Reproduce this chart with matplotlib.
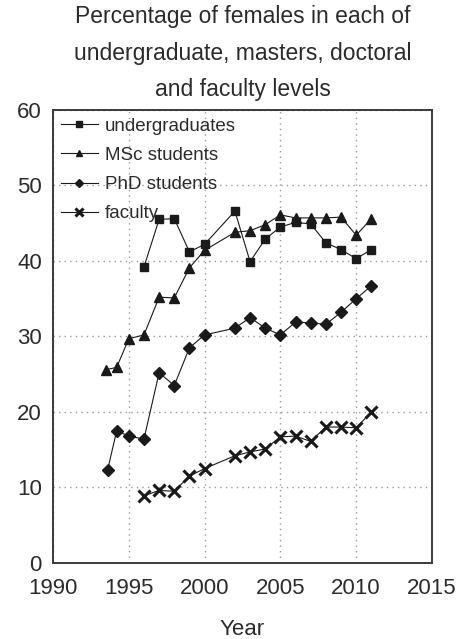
import matplotlib
matplotlib.use('Agg')
import matplotlib.pyplot as plt

# values
ug_years = [1996, 1997, 1998, 1999, 2000, 2002, 2003, 2004, 2005, 2006, 2007, 2008, 2009, 2010, 2011]
ug_pct = [39.2, 45.5, 45.6, 41.2, 42.2, 46.6, 39.9, 42.9, 44.5, 45.1, 44.9, 42.4, 41.5, 40.3, 41.5]

msc_years = [1993.5, 1994.2, 1995, 1996, 1997, 1998, 1999, 2000, 2002, 2003, 2004, 2005, 2006, 2007, 2008, 2009, 2010, 2011]
msc_pct = [25.6, 25.9, 29.7, 30.2, 35.2, 35.1, 39.1, 41.4, 43.8, 44.0, 44.8, 46.1, 45.7, 45.7, 45.7, 45.8, 43.4, 45.6]

phd_years = [1993.6, 1994.2, 1995, 1996, 1997, 1998, 1999, 2000, 2002, 2003, 2004, 2005, 2006, 2007, 2008, 2009, 2010, 2011]
phd_pct = [12.3, 17.5, 16.8, 16.4, 25.2, 23.5, 28.5, 30.2, 31.1, 32.5, 31.1, 30.2, 31.9, 31.8, 31.6, 33.2, 35.0, 36.7]

fac_years = [1996, 1997, 1998, 1999, 2000, 2002, 2003, 2004, 2005, 2006, 2007, 2008, 2009, 2010, 2011]
fac_pct = [8.9, 9.6, 9.5, 11.5, 12.5, 14.2, 14.7, 15.1, 16.7, 16.8, 16.1, 18.0, 18.0, 17.9, 20.0]

x_ticks = [1990, 1995, 2000, 2005, 2010, 2015]
y_ticks = [0, 10, 20, 30, 40, 50, 60]

plt.rcParams['font.family'] = ['Liberation Sans', 'DejaVu Sans']
text_color = '#2b2b2b'

fig = plt.figure(figsize=(4.63, 6.39), dpi=100)
ax = fig.add_axes([0.1145, 0.119, 0.8185, 0.709])

line_kw = dict(color='#1a1a1a', linewidth=0.8)
ax.plot(ug_years, ug_pct, marker='s', markersize=6, label='undergraduates', **line_kw)
ax.plot(msc_years, msc_pct, marker='^', markersize=7, label='MSc students', **line_kw)
ax.plot(phd_years, phd_pct, marker='D', markersize=6, label='PhD students', **line_kw)
ax.plot(fac_years, fac_pct, marker='x', markersize=9, markeredgewidth=2.2, label='faculty', **line_kw)

ax.set_xlim(1990, 2015)
ax.set_ylim(0, 60)
ax.set_xticks(x_ticks)
ax.set_yticks(y_ticks)
ax.tick_params(length=0, labelsize=16, colors=text_color)
ax.tick_params(axis='x', pad=11)
ax.tick_params(axis='y', pad=8)
ax.grid(True, color='#9a9a9a', linestyle=(0, (1, 3)), linewidth=1.0)
for sp in ax.spines.values():
    sp.set_color('#3a3a3a')
    sp.set_linewidth(1.4)

ax.set_xlabel('Year', fontsize=16, color=text_color, labelpad=14)
ax.set_title('Percentage of females in each of\nundergraduate, masters, doctoral\nand faculty levels',
             fontsize=16.5, color=text_color, linespacing=1.75, pad=10)

leg = ax.legend(loc='upper left', frameon=False, fontsize=13.5, handlelength=2.0,
                handletextpad=0.35, labelspacing=0.65, borderaxespad=0.05,
                borderpad=0.35, markerscale=0.7)
for t in leg.get_texts():
    t.set_color(text_color)

fig.savefig('out.png', dpi=100)
